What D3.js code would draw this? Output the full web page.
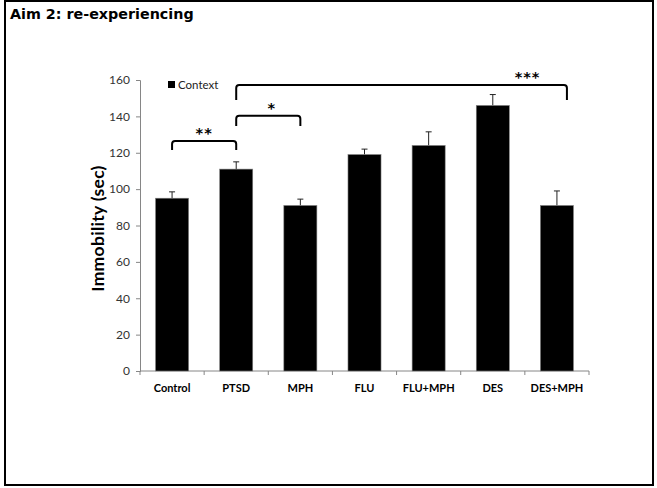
<!DOCTYPE html>
<html>
<head>
<meta charset="utf-8">
<script src="https://cdn.jsdelivr.net/npm/d3@7"></script>
<style>
  html, body { margin: 0; padding: 0; background: #fff; }
  svg { display: block; }
</style>
</head>
<body>
<svg id="chart" width="657" height="488"></svg>
<script>
// Immobility in the context test, per treatment group
const categories = ["Control", "PTSD", "MPH", "FLU", "FLU+MPH", "DES", "DES+MPH"];
const means = [95, 111, 91, 119, 124, 146, 91];
const sems = [3.5, 4, 3.5, 3, 7.5, 6, 8];
const yTicks = [0, 20, 40, 60, 80, 100, 120, 140, 160];
const seriesName = "Context";

// Significance brackets: groups compared, bracket height and leg end (sec), stars
const compFrom = ["Control", "PTSD", "PTSD"];
const compTo = ["PTSD", "MPH", "DES+MPH"];
const compTop = [126.4, 140.3, 157.2];
const compLeg = [121.5, 134.7, 149];
const compStars = ["**", "*", "***"];

const svg = d3.select("#chart");
const plot = { left: 140, right: 589, top: 80, bottom: 371 };
const labelFont = "Lato, 'Open Sans', 'Liberation Sans', sans-serif";

// Outer frame
svg.append("rect")
  .attr("x", 5).attr("y", 1)
  .attr("width", 648).attr("height", 484)
  .attr("fill", "none").attr("stroke", "#000").attr("stroke-width", 2);

svg.append("text")
  .attr("x", 10).attr("y", 19)
  .attr("font-family", "'DejaVu Sans', sans-serif")
  .attr("font-weight", "bold").attr("font-size", 14.3)
  .text("Aim 2: re-experiencing");

const x = d3.scaleBand()
  .domain(categories)
  .range([plot.left, plot.right])
  .paddingInner(0.485)
  .paddingOuter(0.2425);

const y = d3.scaleLinear().domain([0, 160]).range([plot.bottom, plot.top]);

// Y axis
const yAxis = svg.append("g")
  .attr("transform", `translate(${plot.left},0)`)
  .call(d3.axisLeft(y).tickValues(yTicks).tickSize(4).tickPadding(6));
yAxis.select(".domain").attr("stroke", "#868686");
yAxis.selectAll(".tick line").attr("stroke", "#868686");
yAxis.selectAll(".tick text")
  .attr("font-family", labelFont).attr("font-size", 12).attr("fill", "#333");

// X axis with ticks between categories
const step = x.step();
const xAxis = svg.append("g").attr("transform", `translate(0,${plot.bottom})`);
xAxis.append("line")
  .attr("x1", plot.left).attr("x2", plot.right)
  .attr("stroke", "#868686");
xAxis.selectAll("line.tk")
  .data(d3.range(categories.length + 1))
  .join("line").attr("class", "tk")
  .attr("x1", i => plot.left + i * step).attr("x2", i => plot.left + i * step)
  .attr("y1", 0).attr("y2", 4)
  .attr("stroke", "#868686");
xAxis.selectAll("text")
  .data(categories)
  .join("text")
  .attr("x", d => x(d) + x.bandwidth() / 2)
  .attr("y", 21)
  .attr("text-anchor", "middle")
  .attr("font-family", labelFont).attr("font-weight", "bold").attr("font-size", 11)
  .text(d => d);

// Y title
svg.append("text")
  .attr("transform", `translate(104,${(plot.top + plot.bottom) / 2 + 3}) rotate(-90)`)
  .attr("text-anchor", "middle")
  .attr("font-family", labelFont).attr("font-weight", "bold").attr("font-size", 17.5)
  .attr("letter-spacing", 0.3)
  .text("Immobility (sec)");

// Error bars (upper only)
const errs = svg.append("g");
categories.forEach((c, i) => {
  const cx = x(c) + x.bandwidth() / 2;
  errs.append("line")
    .attr("x1", cx).attr("x2", cx)
    .attr("y1", y(means[i])).attr("y2", y(means[i] + sems[i]))
    .attr("stroke", "#222").attr("stroke-width", 1);
  errs.append("line")
    .attr("x1", cx - 3).attr("x2", cx + 3)
    .attr("y1", y(means[i] + sems[i])).attr("y2", y(means[i] + sems[i]))
    .attr("stroke", "#222").attr("stroke-width", 1);
});

// Bars
svg.append("g").selectAll("rect")
  .data(categories)
  .join("rect")
  .attr("x", d => x(d))
  .attr("width", x.bandwidth())
  .attr("y", (d, i) => y(means[i]))
  .attr("height", (d, i) => y(0) - y(means[i]))
  .attr("fill", "#000")
  .attr("stroke", "#7f7f7f").attr("stroke-width", 0.6);

// Legend
svg.append("rect")
  .attr("x", 168).attr("y", 81).attr("width", 7).attr("height", 7)
  .attr("fill", "#000");
svg.append("text")
  .attr("x", 178).attr("y", 88.5)
  .attr("font-family", labelFont).attr("font-size", 11.5).attr("fill", "#222")
  .text(seriesName);

// Significance brackets
const center = c => x(c) + x.bandwidth() / 2;
const bracketEndShift = [0, 0, 10];
const starShift = [0, 3.5, 126];
const br = svg.append("g");
compStars.forEach((s, i) => {
  const x1 = center(compFrom[i]);
  const x2 = center(compTo[i]) + bracketEndShift[i];
  const yt = y(compTop[i]), yl = y(compLeg[i]);
  const r = 3;
  const path = `M${x1},${yl} L${x1},${yt + r} Q${x1},${yt} ${x1 + r},${yt} ` +
               `L${x2 - r},${yt} Q${x2},${yt} ${x2},${yt + r} L${x2},${yl}`;
  br.append("path").attr("d", path)
    .attr("fill", "none").attr("stroke", "#000").attr("stroke-width", 2);
  br.append("text")
    .attr("x", (x1 + x2) / 2 + starShift[i])
    .attr("y", yt - 3)
    .attr("text-anchor", "middle")
    .attr("font-family", "'DejaVu Sans', sans-serif")
    .attr("font-weight", "bold").attr("font-size", 14.5)
    .attr("letter-spacing", 1)
    .text(s);
});
</script>
</body>
</html>
